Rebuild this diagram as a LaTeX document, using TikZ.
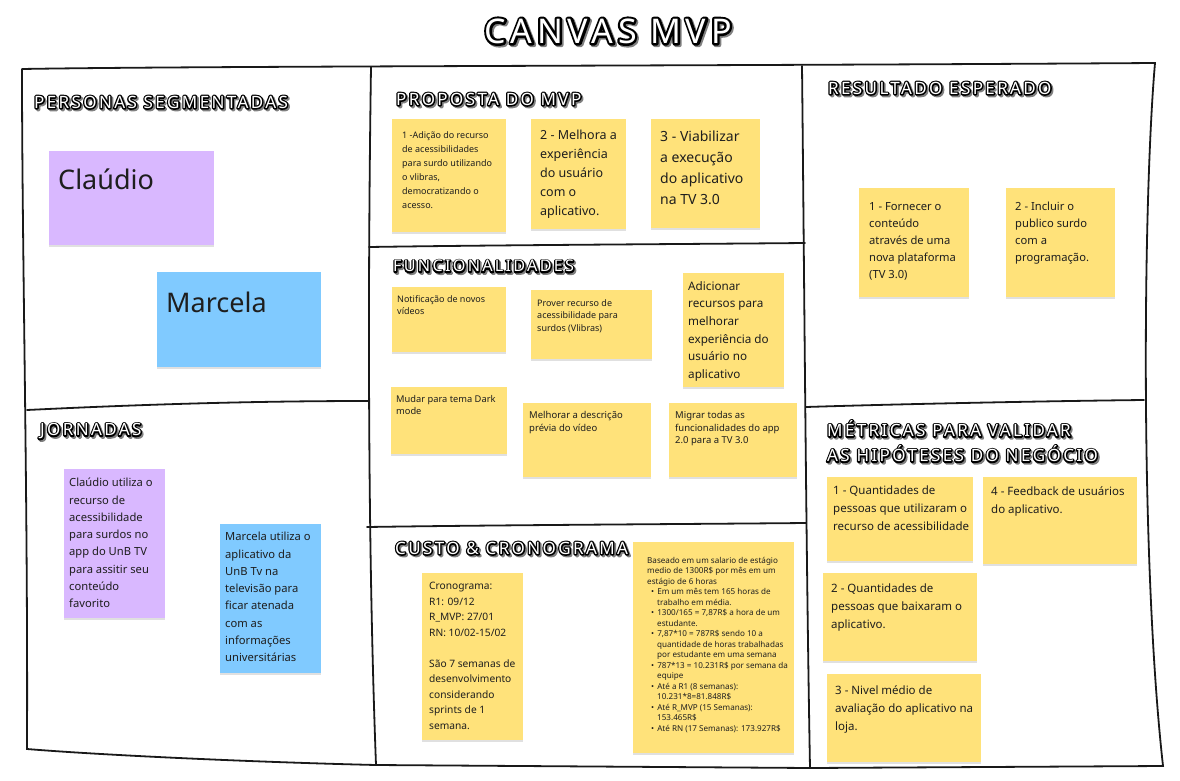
\documentclass[tikz,border=0pt]{standalone}
\usepackage{fontspec}
\setmainfont{Noto Sans}
\newfontfamily\headfont[LetterSpace=14]{Noto Sans}
\usetikzlibrary{positioning,shadows}
\definecolor{stickyyellow}{HTML}{FFE27A}
\definecolor{stickypurple}{HTML}{D9B8FF}
\definecolor{stickyblue}{HTML}{80CAFF}
\definecolor{ink}{HTML}{1E1E1E}
\newcommand{\comic}[2][2.8]{\rlap{\color{black!50}\special{pdf:literal direct #1 w 1 j 2 Tr}\kern1.6pt\raisebox{-1.6pt}{#2}\special{pdf:literal direct 0 Tr}}\rlap{\color{black}\special{pdf:literal direct #1 w 1 j 2 Tr}#2\special{pdf:literal direct 0 Tr}}{\color{white}#2}}
\newcommand{\fs}[2]{\fontsize{#1}{#2}\selectfont}
\newcommand{\costbullet}{\hspace*{4pt}\textbullet\hspace{3pt}}
\newcommand{\costindent}{\hspace*{10pt}}
\tikzset{
  frame/.style={line width=1.8pt, black!90, line cap=round},
  heading/.style={anchor=west, inner sep=0pt, align=left, font=\headfont\bfseries\fs{17}{25}},
  sticky/.style={fill=#1, anchor=north west, inner sep=0pt,
    drop shadow={shadow xshift=0pt, shadow yshift=-1.5pt, fill=black, opacity=0.12}},
  notetext/.style={anchor=north west, inner sep=0pt, align=left, text=ink},
}

\begin{document}
\begin{tikzpicture}[x=1pt,y=-1pt]
\fill[white] (0,0) rectangle (1180,781);
\useasboundingbox (0,0) rectangle (1180,781);

\node[heading, anchor=center, font=\headfont\bfseries\fs{34}{38}] (title) at (608,32) {\comic[4.6]{CANVAS MVP}};

\coordinate (tl) at (22,69);
\coordinate (t1) at (371,67);
\coordinate (t2) at (802,66);
\coordinate (tr) at (1155,63);
\coordinate (bl) at (27,749);
\coordinate (b1) at (376,765);
\coordinate (b2) at (810,768);
\coordinate (br) at (1163,766);
\draw[frame] (tl) .. controls (200,66) and (700,66) .. (tr)
  .. controls (1143,200) and (1140,560) .. (br)
  -- (b2) -- (b1)
  .. controls (250,762) and (100,755) .. (bl)
  .. controls (28,500) and (22,250) .. (tl);
\draw[frame] (t1) .. controls (369,200) and (366,500) .. (b1);
\draw[frame] (t2) .. controls (804,250) and (806,550) .. (b2);
\draw[frame] (27,410) .. controls (150,404) and (260,401) .. (368,401);
\draw[frame] (369,247) .. controls (500,245) and (700,244) .. (805,243);
\draw[frame] (367,527) .. controls (500,525) and (700,524) .. (806,523);
\draw[frame] (806,407) .. controls (900,404) and (1050,401) .. (1144,400);

\node[heading] (hpersonas) at (34,103) {\comic{PERSONAS SEGMENTADAS}};
\node[heading] (hproposta) at (396,100) {\comic{PROPOSTA DO MVP}};
\node[heading] (hresultado) at (828,89) {\comic{RESULTADO ESPERADO}};
\node[heading, font=\headfont\bfseries\fs{16.2}{25}] (hfunc) at (393,267) {\comic{FUNCIONALIDADES}};
\node[heading] (hjornadas) at (40,432) {\comic{JORNADAS}};
\node[heading] (hmetricas) at (827,442) {\comic{MÉTRICAS PARA VALIDAR}\\\comic{AS HIPÓTESES DO NEGÓCIO}};
\node[heading] (hcusto) at (395,549) {\comic{CUSTO \& CRONOGRAMA}};

\node[sticky=stickypurple, minimum width=165, minimum height=94] (pcla) at (49,151) {};
\node[notetext, font=\fs{27}{32}] (pcla-t) at ([shift={(9,18)}]pcla.north west) {Claúdio};
\node[sticky=stickyblue, minimum width=164, minimum height=95] (pmar) at (157,272) {};
\node[notetext, font=\fs{27}{32}] (pmar-t) at ([shift={(9,20)}]pmar.north west) {Marcela};

\node[sticky=stickyyellow, minimum width=114, minimum height=113] (prop1) at (392,119) {};
\node[notetext, font=\fs{9}{14}] (prop1-t) at ([shift={(10,12)}]prop1.north west) {1 -Adição do recurso\\de acessibilidades\\para surdo utilizando\\o vlibras,\\democratizando o\\acesso.};
\node[sticky=stickyyellow, minimum width=95, minimum height=110] (prop2) at (531,119) {};
\node[notetext, font=\fs{12.5}{19}] (prop2-t) at ([shift={(9,11)}]prop2.north west) {2 - Melhora a\\experiência\\do usuário\\com o\\aplicativo.};
\node[sticky=stickyyellow, minimum width=109, minimum height=109] (prop3) at (651,119) {};
\node[notetext, font=\fs{14}{21}] (prop3-t) at ([shift={(9,12)}]prop3.north west) {3 - Viabilizar\\a execução\\do aplicativo\\na TV 3.0};

\node[sticky=stickyyellow, minimum width=114, minimum height=65] (func1) at (392,287) {};
\node[notetext, font=\fs{9}{12}] (func1-t) at ([shift={(5,8)}]func1.north west) {Notificação de novos\\vídeos};
\node[sticky=stickyyellow, minimum width=121, minimum height=69] (func2) at (531,290) {};
\node[notetext, font=\fs{9}{12.5}] (func2-t) at ([shift={(6,9)}]func2.north west) {Prover recurso de\\acessibilidade para\\surdos (Vlibras)};
\node[sticky=stickyyellow, minimum width=101, minimum height=114] (func3) at (683,273) {};
\node[notetext, font=\fs{11.7}{17.7}] (func3-t) at ([shift={(5,8)}]func3.north west) {Adicionar\\recursos para\\melhorar\\experiência do\\usuário no\\aplicativo};
\node[sticky=stickyyellow, minimum width=116, minimum height=67] (func4) at (391,387) {};
\node[notetext, font=\fs{9.3}{12.3}] (func4-t) at ([shift={(5,8)}]func4.north west) {Mudar para tema Dark\\mode};
\node[sticky=stickyyellow, minimum width=128, minimum height=74] (func5) at (523,403) {};
\node[notetext, font=\fs{9.5}{12.7}] (func5-t) at ([shift={(6,8)}]func5.north west) {Melhorar a descrição\\prévia do vídeo};
\node[sticky=stickyyellow, minimum width=128, minimum height=74] (func6) at (669,403) {};
\node[notetext, font=\fs{9.5}{12.7}] (func6-t) at ([shift={(6,8)}]func6.north west) {Migrar todas as\\funcionalidades do app\\2.0 para a TV 3.0};

\node[sticky=stickyyellow, minimum width=101, minimum height=167] (cron) at (422,573) {};
\node[notetext, font=\fs{10.2}{15.5}] (cron-t) at ([shift={(7,9)}]cron.north west) {Cronograma:\\R1: 09/12\\R\_MVP: 27/01\\RN: 10/02-15/02\\ \\São 7 semanas de\\desenvolvimento\\considerando\\sprints de 1\\semana.};
\node[sticky=stickyyellow, minimum width=161, minimum height=211] (cost) at (633,542) {};
\node[notetext, font=\fs{8.1}{10.5}] (cost-t) at ([shift={(14,15)}]cost.north west) {Baseado em um salario de estágio\\medio de 1300R\$ por mês em um\\estágio de 6 horas\\
\costbullet Em um mês tem 165 horas de\\\costindent trabalho em média.\\
\costbullet 1300/165 = 7,87R\$ a hora de um\\\costindent estudante.\\
\costbullet 7,87*10 = 787R\$ sendo 10 a\\\costindent quantidade de horas trabalhadas\\\costindent por estudante em uma semana\\
\costbullet 787*13 = 10.231R\$ por semana da\\\costindent equipe\\
\costbullet Até a R1 (8 semanas):\\\costindent 10.231*8=81.848R\$\\
\costbullet Até R\_MVP (15 Semanas):\\\costindent 153.465R\$\\
\costbullet Até RN (17 Semanas): 173.927R\$};

\node[sticky=stickyyellow, minimum width=110, minimum height=109] (res1) at (859,188) {};
\node[notetext, font=\fs{11.2}{17}] (res1-t) at ([shift={(10,14)}]res1.north west) {1 - Fornecer o\\conteúdo\\através de uma\\nova plataforma\\(TV 3.0)};
\node[sticky=stickyyellow, minimum width=109, minimum height=109] (res2) at (1006,188) {};
\node[notetext, font=\fs{11.2}{17}] (res2-t) at ([shift={(9,14)}]res2.north west) {2 - Incluir o\\publico surdo\\com a\\programação.};

\node[sticky=stickyyellow, minimum width=146, minimum height=84] (met1) at (827,477) {};
\node[notetext, font=\fs{11.5}{18}] (met1-t) at ([shift={(6,9)}]met1.north west) {1 - Quantidades de\\pessoas que utilizaram o\\recurso de acessibilidade};
\node[sticky=stickyyellow, minimum width=154, minimum height=87] (met4) at (983,477) {};
\node[notetext, font=\fs{11.5}{18}] (met4-t) at ([shift={(8,9)}]met4.north west) {4 - Feedback de usuários\\do aplicativo.};
\node[sticky=stickyyellow, minimum width=154, minimum height=88] (met2) at (823,573) {};
\node[notetext, font=\fs{11.5}{18}] (met2-t) at ([shift={(8,11)}]met2.north west) {2 - Quantidades de\\pessoas que baixaram o\\aplicativo.};
\node[sticky=stickyyellow, minimum width=154, minimum height=88] (met3) at (827,674) {};
\node[notetext, font=\fs{11.5}{18}] (met3-t) at ([shift={(8,11)}]met3.north west) {3 - Nivel médio de\\avaliação do aplicativo na\\loja.};

\node[sticky=stickypurple, minimum width=101, minimum height=149] (jcla) at (64,469) {};
\node[notetext, font=\fs{11.2}{17.3}] (jcla-t) at ([shift={(5,9)}]jcla.north west) {Claúdio utiliza o\\recurso de\\acessibilidade\\para surdos no\\app do UnB TV\\para assitir seu\\conteúdo\\favorito};
\node[sticky=stickyblue, minimum width=101, minimum height=149] (jmar) at (220,524) {};
\node[notetext, font=\fs{11.2}{17.3}] (jmar-t) at ([shift={(5,8)}]jmar.north west) {Marcela utiliza o\\aplicativo da\\UnB Tv na\\televisão para\\ficar atenada\\com as\\informações\\universitárias};
\end{tikzpicture}
\end{document}
